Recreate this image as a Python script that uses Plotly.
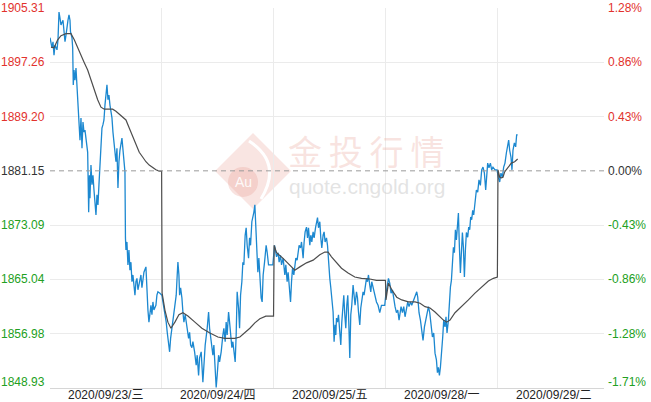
import plotly.graph_objects as go

# ---------------- data ----------------
day_labels = ["2020/09/23/三", "2020/09/24/四", "2020/09/25/五", "2020/09/28/一", "2020/09/29/二"]
SLOTS_PER_DAY = 112          # time slots per trading session (x index units)
price_levels = [1905.31, 1897.26, 1889.20, 1881.15, 1873.09, 1865.04, 1856.98, 1848.93]
pct_labels = ["1.28%", "0.86%", "0.43%", "0.00%", "-0.43%", "-0.86%", "-1.28%", "-1.71%"]
prev_close = 1881.15

day1_t = [0, 2, 3, 4, 5, 7, 8, 9, 10, 11, 13, 14, 15, 16, 17, 18, 19, 20, 20.5, 22,
          22.7, 23.3, 24, 25, 26, 27, 28.7, 29.3, 30, 31, 32, 33, 34, 35, 36, 37.7, 38.7, 39.5, 40, 41,
          42, 43, 44, 45, 46, 47, 48, 49, 50, 51, 52, 53, 54, 55, 56, 57, 58, 59, 60, 61,
          62, 63, 65, 66, 67, 68, 69, 70, 72, 73, 74, 75, 75.5, 76, 77, 78, 79, 80, 81, 82,
          83, 84, 85, 86, 87, 88, 89, 91, 92, 93, 94, 96, 97, 98, 99, 100, 101, 102, 103, 104,
          106, 107, 108, 110, 112]
day1_p = [1900.9, 1899.4, 1900.3, 1898.3, 1899.8, 1899.1, 1900.6, 1904.7, 1903.8, 1902.8,
          1903.5, 1902.0, 1900.3, 1901.3, 1902.8, 1903.5, 1904.3, 1903.5, 1901.8, 1900.9,
          1899.4, 1893.9, 1896.1, 1894.6, 1896.4, 1893.9, 1889.9, 1888.0, 1885.7, 1889.0,
          1884.5, 1888.4, 1886.9, 1887.2, 1885.7, 1883.9, 1875.0, 1880.5, 1877.1, 1882.0,
          1879.1, 1880.5, 1878.3, 1876.8, 1874.6, 1877.6, 1876.1, 1879.1, 1882.0, 1885.7,
          1887.5, 1888.0, 1888.7, 1890.9, 1893.1, 1893.9, 1891.7, 1892.4, 1890.9, 1889.9,
          1889.0, 1886.9, 1883.5, 1882.5, 1884.5, 1878.6, 1882.5, 1884.2, 1886.0, 1884.5,
          1882.0, 1881.0, 1871.2, 1869.4, 1870.6, 1867.2, 1869.4, 1866.4, 1867.6, 1864.7,
          1865.7, 1863.5, 1862.7, 1864.7, 1865.2, 1863.5, 1864.2, 1865.7, 1863.8, 1865.0,
          1866.1, 1866.9, 1863.2, 1860.5, 1858.7, 1860.2, 1861.2, 1859.8, 1861.7, 1860.5,
          1861.2, 1862.7, 1863.2, 1863.0, 1862.7]

day2_t = [113, 114.7, 116.3, 117.3, 118.7, 119.7, 120.7, 122, 123, 124,
          125.3, 126.3, 127.3, 128, 129, 129.7, 130.7, 132, 133, 134,
          135.3, 136.3, 137.3, 138.7, 139.7, 140.7, 142, 143, 144.7, 146.3,
          147.3, 148.7, 149.7, 151.3, 153, 154, 155.3, 157.3, 158.7, 159.7,
          161.3, 163, 164, 165.3, 166.3, 167.3, 168.7, 169.7, 171.3, 173,
          174, 175.3, 176.3, 177.3, 178.7, 179.7, 180.7, 182, 183, 184,
          185.3, 186.3, 187.3, 188.7, 189.7, 190.7, 192, 193, 194, 195.3,
          196.3, 197.3, 198.7, 199.7, 200.7, 202, 203, 204, 205, 206,
          207.3, 208, 209, 210, 211.3, 212.3, 213.3, 214.7, 216.3, 217.3,
          218.7, 220.7, 223, 224.7]
day2_p = [1861.7, 1860.2, 1858.7, 1857.2, 1854.9, 1854.3, 1856.3, 1857.8, 1858.3, 1859.8,
          1861.2, 1862.7, 1865.7, 1867.6, 1865.7, 1862.7, 1863.8, 1862.3, 1860.2, 1858.7,
          1859.8, 1858.7, 1857.8, 1856.3, 1857.2, 1855.3, 1854.9, 1855.8, 1854.3, 1852.3,
          1853.8, 1850.8, 1853.4, 1854.3, 1849.8, 1852.3, 1855.3, 1857.8, 1860.2, 1857.8,
          1855.8, 1853.8, 1855.3, 1851.0, 1849.0, 1850.8, 1853.8, 1852.8, 1854.3, 1856.8,
          1857.8, 1855.8, 1858.7, 1856.8, 1860.2, 1858.7, 1856.8, 1854.9, 1855.8, 1854.3,
          1852.8, 1856.8, 1863.2, 1860.8, 1857.8, 1862.7, 1864.7, 1867.6, 1867.2, 1871.6,
          1872.7, 1870.1, 1868.2, 1871.2, 1870.1, 1873.6, 1874.2, 1875.0, 1876.1, 1872.7,
          1869.1, 1866.1, 1868.2, 1864.7, 1862.3, 1861.7, 1865.7, 1867.6, 1870.1, 1869.1,
          1867.2, 1867.2, 1867.2, 1870.1]

day3_t = [225, 226.7, 228.3, 229.3, 230.7, 231.7, 233.3, 235, 236, 237.3,
          238.3, 239.3, 240.7, 241.7, 242.7, 244, 245, 246, 247.3, 248.3,
          249.3, 250.7, 251.7, 252.7, 253.3, 254.3, 255.3, 256.7, 257.7, 258.7,
          260, 261, 262, 263.3, 264.3, 265.7, 266.7, 267.7, 268.7, 270,
          271, 272, 273.3, 274.3, 275.3, 276.7, 277.7, 278.7, 280, 281,
          282, 283.3, 284.3, 285.3, 286, 286.7, 287.7, 288.7, 290, 291,
          292, 293, 294, 295, 296, 297, 298, 299, 300, 301,
          302, 303.3, 304.3, 305.3, 306.7, 307.7, 308.7, 310, 311, 312,
          313.3, 314.3, 315.3, 316.7, 317.7, 318.7, 320, 321, 322, 323.3,
          325, 326.7, 328.3, 330, 331.7, 333.3, 335, 336]
day3_p = [1869.7, 1868.4, 1869.0, 1867.6, 1868.6, 1867.2, 1868.2, 1865.7, 1867.2, 1864.7,
          1866.1, 1863.8, 1861.7, 1864.7, 1866.7, 1865.7, 1867.2, 1868.2, 1867.9, 1869.4,
          1870.1, 1869.7, 1870.6, 1869.1, 1868.2, 1870.6, 1872.1, 1872.8, 1871.2, 1872.7,
          1870.1, 1871.6, 1870.6, 1872.1, 1871.2, 1872.7, 1873.6, 1874.2, 1872.7, 1873.6,
          1871.2, 1869.7, 1871.6, 1872.1, 1870.6, 1871.2, 1870.1, 1867.2, 1865.2, 1863.8,
          1862.3, 1860.2, 1855.8, 1858.3, 1856.8, 1859.3, 1858.7, 1859.8, 1857.2, 1855.3,
          1858.7, 1861.2, 1862.7, 1859.8, 1857.8, 1861.2, 1862.7, 1858.7, 1853.4, 1859.8,
          1861.2, 1864.2, 1862.7, 1861.2, 1863.2, 1862.3, 1860.2, 1858.3, 1860.8, 1861.7,
          1863.2, 1862.7, 1864.2, 1865.2, 1864.7, 1865.7, 1864.2, 1863.2, 1864.7, 1863.8,
          1862.7, 1861.7, 1861.2, 1860.1, 1861.2, 1861.2, 1861.2, 1862.7]

day4_t = [337.3, 338.7, 340, 341.3, 342.7, 344, 345.3, 346.7, 348, 349.3,
          350.3, 351.3, 352.7, 354, 355.3, 356.7, 358, 359.3, 360.7, 362,
          363.7, 365.3, 367, 368, 369.3, 370.7, 372, 373.3, 374.7, 376,
          377.3, 378.7, 380, 381.3, 382.7, 384, 385.3, 386.7, 387.7, 388.7,
          389.7, 390.7, 392, 393, 394, 395.3, 396.3, 397.3, 398.7, 399.7,
          400.7, 401.7, 402.7, 403.7, 404.7, 405.7, 406.7, 407.7, 408.7, 409.7,
          410.7, 411.7, 412.7, 413.7, 414.7, 415.7, 416.7, 418, 419, 420,
          421, 422, 423, 424, 425.3, 426.7, 428, 429.3, 430.7, 432,
          433.3, 434.7, 436, 437, 438, 439.3, 440.7, 442, 443.3, 445.3,
          447.3]
day4_p = [1863.9, 1865.2, 1864.5, 1863.0, 1863.5, 1862.0, 1861.0, 1860.1, 1860.5, 1859.0,
          1860.1, 1861.0, 1860.1, 1861.0, 1859.5, 1861.0, 1861.7, 1861.0, 1861.7, 1861.2,
          1862.0, 1862.4, 1863.2, 1862.4, 1860.1, 1859.0, 1857.5, 1856.0, 1858.0, 1859.0,
          1860.1, 1861.0, 1860.1, 1858.6, 1856.5, 1857.1, 1854.1, 1853.1, 1851.2, 1852.0,
          1850.8, 1852.0, 1854.1, 1856.5, 1859.0, 1858.0, 1859.5, 1857.1, 1859.0, 1862.0,
          1863.9, 1864.9, 1867.5, 1869.8, 1869.0, 1872.4, 1870.9, 1873.4, 1874.9, 1869.8,
          1866.0, 1869.0, 1872.0, 1869.8, 1865.4, 1869.4, 1872.0, 1871.3, 1872.8, 1872.4,
          1874.3, 1873.9, 1875.3, 1874.6, 1876.4, 1878.3, 1878.0, 1879.8, 1879.0, 1881.3,
          1881.7, 1880.8, 1878.3, 1880.8, 1882.3, 1881.6, 1882.3, 1881.3, 1881.7, 1881.3,
          1881.3]

day5_t = [448.7, 450, 451.3, 452.7, 454, 455.3, 456.7, 458, 459, 460,
          461.3, 462.3, 463.3, 464.7, 466, 467, 468]
day5_p = [1880.2, 1879.5, 1880.8, 1880.2, 1881.7, 1882.3, 1883.8, 1884.7, 1885.7, 1884.2,
          1883.2, 1881.3, 1884.2, 1885.3, 1884.7, 1886.5, 1886.5]

# average-price line
avg_t = [1, 4, 7.7, 11, 16, 21, 24.3, 29.3, 34.3, 37.7, 41, 44.3, 47.7, 51, 54.3, 59.3,
         62.7, 66, 71, 76, 79.3, 82.7, 86, 89.3, 92.7, 96, 99.3, 102.7, 106, 109.3, 111.7,
         112.2, 115, 118, 121, 125, 129, 133, 138, 145, 152, 160, 168, 175, 185, 190, 195,
         200, 205, 210, 216, 223.7,
         224.3, 226.7, 233, 240, 245, 250, 256.7, 263.3, 270, 275, 278.3, 281.7, 286.7,
         291.7, 298.3, 305, 311.7, 320, 326.7, 335.7,
         336.2, 338.7, 342, 347, 352, 358.7, 365.3, 370.3, 375.3, 380.3, 385.3, 390.3,
         393.7, 397, 400.3, 405.3, 412, 418.7, 425.3, 432, 438.7, 443.7, 447.7,
         448.3, 450, 451.7, 453.3, 455, 458.3, 461.7, 465, 468]
avg_p = [1899.5, 1899.4, 1900.6, 1901.2, 1901.5, 1901.5, 1900.6, 1898.8, 1897.2, 1896.1,
         1894.6, 1893.1, 1891.7, 1890.6, 1890.3, 1890.3, 1890.3, 1890.0, 1889.4, 1888.7,
         1887.5, 1886.2, 1885.0, 1883.9, 1883.2, 1882.5, 1882.0, 1881.6, 1881.3, 1881.1, 1881.1,
         1863.0, 1860.5, 1858.7, 1857.8, 1858.7, 1859.8, 1860.1, 1859.6, 1858.7, 1857.8,
         1857.1, 1856.5, 1856.3, 1856.3, 1856.5, 1857.1, 1857.8, 1858.6, 1859.2, 1859.6, 1859.6,
         1870.1, 1869.0, 1868.2, 1867.2, 1866.4, 1866.9, 1867.5, 1867.9, 1868.7, 1869.1,
         1869.1, 1868.4, 1867.5, 1866.7, 1866.0, 1865.4, 1865.2, 1865.1, 1864.9, 1864.9,
         1862.0, 1864.5, 1863.5, 1862.4, 1862.0, 1861.7, 1861.7, 1861.5, 1861.0, 1860.8,
         1860.2, 1859.5, 1859.0, 1858.7, 1859.0, 1860.1, 1861.0, 1862.0, 1863.0, 1863.9,
         1864.8, 1865.2, 1865.4,
         1881.3, 1880.2, 1880.1, 1880.2, 1881.0, 1881.7, 1882.3, 1882.5, 1882.9]

price_t = day1_t + day2_t + day3_t + day4_t + day5_t
price_p = day1_p + day2_p + day3_p + day4_p + day5_p
for a, b in [(day1_t, day1_p), (day2_t, day2_p), (day3_t, day3_p), (day4_t, day4_p),
             (day5_t, day5_p), (avg_t, avg_p)]:
    if len(a) != len(b):
        raise ValueError(f"length mismatch {len(a)} vs {len(b)}")

# ---------------- styling ----------------
RED, GREEN, DARK = "#e2322d", "#22a022", "#333333"
FONT = "Arial, 'Liberation Sans', 'Noto Sans CJK SC', sans-serif"
n_days = len(day_labels)

fig = go.Figure()
fig.add_trace(go.Scatter(x=price_t, y=price_p, mode="lines",
                         line=dict(color="#1c88d0", width=1.3), hoverinfo="skip"))
fig.add_trace(go.Scatter(x=avg_t, y=avg_p, mode="lines",
                         line=dict(color="#4d4d4d", width=1.2), hoverinfo="skip"))

annotations = []
for i, (lv, pl) in enumerate(zip(price_levels, pct_labels)):
    col = RED if lv > prev_close else (GREEN if lv < prev_close else DARK)
    ysh = 6 if i == len(price_levels) - 1 else 0
    annotations.append(dict(x=0, xref="paper", y=lv, yref="y", text=f"{lv:.2f}",
                            showarrow=False, xanchor="right", yanchor="middle",
                            xshift=-3, yshift=ysh, font=dict(family=FONT, size=12, color=col)))
    annotations.append(dict(x=1, xref="paper", y=lv, yref="y", text=pl,
                            showarrow=False, xanchor="left", yanchor="middle",
                            xshift=2, yshift=ysh, font=dict(family=FONT, size=12, color=col)))

# day labels under the axis
for i, lab in enumerate(day_labels):
    annotations.append(dict(x=SLOTS_PER_DAY * (i + 0.5), xref="x", y=0, yref="paper",
                            text=lab, showarrow=False, xanchor="center", yanchor="middle",
                            yshift=-7, font=dict(family=FONT, size=12, color="#222")))

# watermark
annotations.append(dict(x=0.571, xref="paper", y=0.626, yref="paper",
                        text="金\u2009投\u2009行\u2009情", showarrow=False,
                        font=dict(family="'Noto Sans CJK SC'", size=34, color="rgba(236,175,165,0.35)")))
annotations.append(dict(x=0.573, xref="paper", y=0.53, yref="paper", text="quote.cngold.org",
                        showarrow=False,
                        font=dict(family=FONT, size=21, color="rgba(200,200,200,0.5)")))
annotations.append(dict(x=0.3484, xref="paper", y=0.5421, yref="paper", text="Au",
                        showarrow=False, font=dict(family=FONT, size=14, color="rgba(255,255,255,0.9)")))

shapes = [
    dict(type="path", xref="paper", yref="paper", xsizemode="pixel", ysizemode="pixel",
         xanchor=0.3664, yanchor=0.5711, path="M 0 38 L 38 0 L 0 -38 L -38 0 Z",
         fillcolor="rgba(236,170,160,0.30)", line=dict(width=0), layer="below"),
    dict(type="path", xref="paper", yref="paper", xsizemode="pixel", ysizemode="pixel",
         xanchor=0.3664, yanchor=0.5711, path="M -4 30 Q 30 8 8 -28",
         line=dict(color="white", width=3), layer="below"),
    dict(type="circle", xref="paper", yref="paper", xsizemode="pixel", ysizemode="pixel",
         xanchor=0.3484, yanchor=0.5421, x0=-15, x1=15, y0=-15, y1=15,
         fillcolor="rgba(232,160,150,0.30)", line=dict(width=0), layer="below"),
    dict(type="line", xref="paper", x0=0, x1=1, yref="y", y0=prev_close, y1=prev_close,
         line=dict(color="#9a9a9a", width=1, dash="5px,4px")),
]

fig.update_layout(
    width=651, height=402,
    margin=dict(l=50, r=47, t=8, b=14),
    paper_bgcolor="white", plot_bgcolor="white",
    showlegend=False,
    xaxis=dict(range=[0, SLOTS_PER_DAY * 4.95], automargin=False,
               tickvals=[SLOTS_PER_DAY * (i + 0.5) for i in range(n_days)],
               showticklabels=False, ticks="", showgrid=False, zeroline=False,
               showline=True, linecolor="#d6d6d6", linewidth=1,
               minor=dict(tickvals=[SLOTS_PER_DAY * k for k in range(1, n_days)],
                          showgrid=True, gridcolor="#ebebeb", gridwidth=1, ticks=""),
               fixedrange=True),
    yaxis=dict(range=[price_levels[-1], price_levels[0]], automargin=False,
               tickvals=[v for v in price_levels if v != prev_close],
               showticklabels=False, showgrid=True, gridcolor="#ebebeb", gridwidth=1,
               zeroline=False, ticks="", fixedrange=True),
    annotations=annotations,
    shapes=shapes,
)

fig.write_html("out.html", config={"displayModeBar": False},
               post_script="document.body.style.margin='0';document.body.style.overflow='hidden';")
